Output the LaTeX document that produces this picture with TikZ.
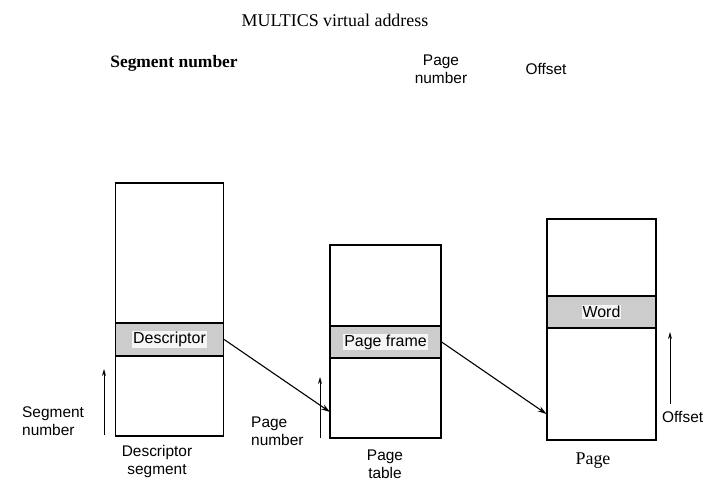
\documentclass[tikz,border=0pt]{standalone}
\usepackage{fontspec}
\setmainfont{Liberation Serif}
\setsansfont{Liberation Sans}
\usetikzlibrary{arrows.meta,positioning}

\tikzset{
  membox/.style={draw,line width=1.3bp,inner sep=0pt},
  band/.style={membox,fill=gray!40},
  entry/.style={fill=gray!8,inner sep=1bp,font=\sffamily\fontsize{16}{18}\selectfont},
  lbl/.style={font=\sffamily\fontsize{15.5}{18}\selectfont,align=center,inner sep=0pt},
  ptr/.style={->,line width=1.1bp},
  idx/.style={->,line width=0.9bp,>={Stealth[length=7bp,width=4bp]}}
}

\begin{document}
\begin{tikzpicture}[x=1bp,y=-1bp,>={Stealth[length=9bp,width=5.5bp]}]
\useasboundingbox (0,0) rectangle (719,492);

%% ---------------- the virtual address ----------------
\node[font=\fontsize{18}{21}\selectfont] (title) at (335,20) {MULTICS virtual address};
\node[font=\bfseries\fontsize{17.5}{20}\selectfont] (segfld) at (174,63) {Segment number};
\node[lbl] (pagefld) at (441,69) {Page\\number};
\node[lbl] (offfld) at (546,69) {Offset};

%% ---------------- descriptor segment ----------------
\node[membox,minimum width=108bp,minimum height=253bp] (dseg) at (169.5,309.5) {};
\node[band,minimum width=108bp,minimum height=33bp] (dband) at (169.5,339.5) {};
\node[entry] (desc) at (dband) {Descriptor};
\node[lbl] (dseglbl) at (157,461.5) {Descriptor\\segment};
\node[lbl,align=left,anchor=west] (segnum) at (22,421.5) {Segment\\number};
\coordinate (segfoot) at (104,435);
\coordinate (seghead) at (104,369);
\draw[idx] (segfoot) -- (seghead);

%% ---------------- page table ----------------
\node[membox,minimum width=111bp,minimum height=193bp] (ptab) at (385.5,341.5) {};
\node[band,minimum width=111bp,minimum height=32bp] (pband) at (385.5,342) {};
\node[entry] (frame) at (pband) {Page frame};
\node[lbl] (ptablbl) at (385,464) {Page\\table};
\node[lbl,align=left,anchor=west] (pagenum) at (251,431) {Page\\number};
\coordinate (pagefoot) at (320,438);
\coordinate (pagehead) at (320,377);
\draw[idx] (pagefoot) -- (pagehead);

%% ---------------- the page ----------------
\node[membox,minimum width=109bp,minimum height=221bp] (page) at (601.5,329.5) {};
\node[band,minimum width=109bp,minimum height=32bp] (wband) at (601.5,312) {};
\node[entry] (word) at (wband) {Word};
\node[font=\fontsize{18}{21}\selectfont] (pagelbl) at (593,461) {Page};
\node[lbl,anchor=west] (offset) at (662,417) {Offset};
\coordinate (offfoot) at (670,404);
\coordinate (offhead) at (670,332);
\draw[idx] (offfoot) -- (offhead);

%% ---------------- the pointers ----------------
\coordinate (ptabrow) at (330,412);
\coordinate (pagerow) at (546.5,414);
\draw[ptr] (dband.east) -- (ptabrow);
\draw[ptr] (pband.east) -- (pagerow);

\end{tikzpicture}
\end{document}
